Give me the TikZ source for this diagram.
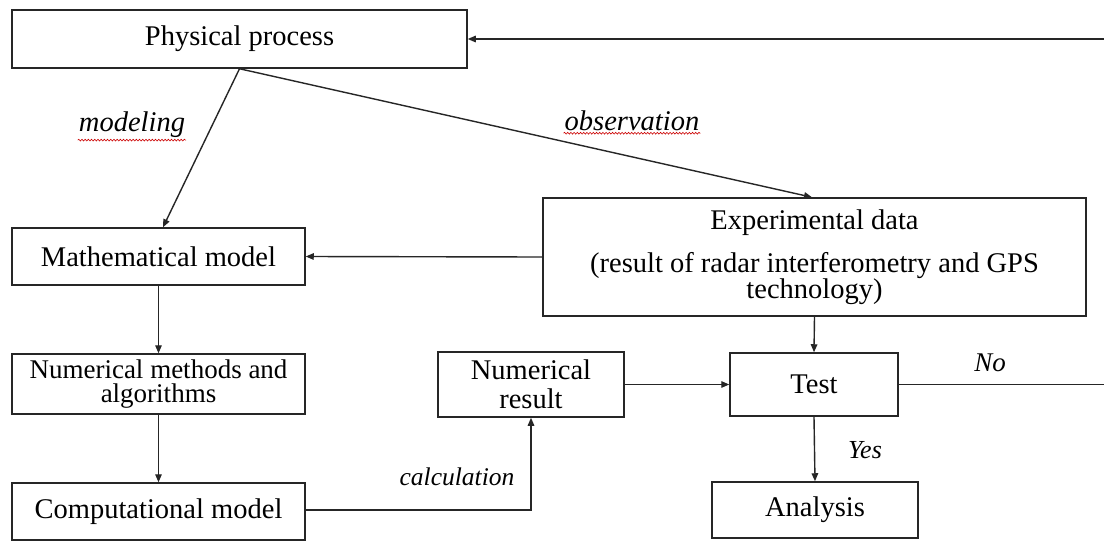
\documentclass[tikz,border=0pt]{standalone}
\usepackage{fontspec}
\setmainfont{Liberation Serif}
\usetikzlibrary{arrows.meta,decorations.pathmorphing}
\begin{document}
\begin{tikzpicture}[x=1pt,y=-1pt,
  box/.style={draw=black!85, line width=1.5pt, inner sep=0pt, align=center,
    font=\fontsize{28.5}{25}\selectfont},
  arr/.style={line width=1.4pt, draw=black!85, -{Triangle[length=8pt,width=6.5pt]}},
  ln/.style={line width=1.4pt, draw=black!85},
  lab/.style={inner sep=1pt, font=\fontsize{28.5}{30}\selectfont\itshape},
  squig/.style={draw=red!80!black, line width=0.6pt, decorate,
    decoration={snake, amplitude=0.9pt, segment length=3.2pt}}]
\useasboundingbox (0,0) rectangle (1104,541);
\fill[white] (0,0) rectangle (1104,541);

% boxes
\node[box, minimum width=455pt, minimum height=58pt] (pp) at (239.5,39) {Physical process};
\node[box, minimum width=293pt, minimum height=57pt] (math) at (158.5,256.5) {Mathematical model};
\node[box, minimum width=293pt, minimum height=60pt, font=\fontsize{27}{24.5}\selectfont] (nm) at (158.5,384) {Numerical methods and\\algorithms};
\node[box, minimum width=293pt, minimum height=57pt] (comp) at (158.5,511.5) {Computational model};
\node[box, minimum width=543pt, minimum height=118pt] (exp) at (814.5,257) {};
\node[font=\fontsize{28.5}{30}\selectfont] (expa) at (814.5,223) {Experimental data};
\node[font=\fontsize{28.5}{28}\selectfont, align=center] (expb) at (814.5,279) {(result of radar interferometry and GPS\\[-2pt]technology)};
\node[box, minimum width=186pt, minimum height=65pt, font=\fontsize{28.5}{29}\selectfont] (nr) at (531,384.5) {Numerical\\result};
\node[box, minimum width=168pt, minimum height=63pt] (test) at (814,384.5) {Test};
\node[box, minimum width=206pt, minimum height=56pt] (ana) at (815,510) {Analysis};

% free ends at the right edge and bend point
\coordinate (r1) at (1104,39);
\coordinate (r2) at (1104,384.5);
\coordinate (cstart) at ([yshift=1.5pt]comp.east);
\coordinate (bend) at (nr.south |- cstart);

% connectors
\draw[arr] (r1) -- (pp.east);
\draw[arr] (pp.south) -- ([xshift=4.5pt]math.north);
\draw[arr] (pp.south) -- ([xshift=-2.5pt]exp.north);
\draw[arr] (exp.west) -- (math.east);
\draw[arr] (math.south) -- (nm.north);
\draw[arr] (nm.south) -- (comp.north);
\draw[arr] (cstart) -- (bend) -- (nr.south);
\draw[arr] (nr.east) -- (test.west);
\draw[arr] (exp.south) -- (test.north);
\draw[arr] (test.south) -- (ana.north);
\draw[ln] (test.east) -- (r2);

% labels
\node[lab] (lmod) at (132,125) {modeling};
\node[lab] (lobs) at (632,121) {observation};
\node[lab, font=\fontsize{25.5}{27}\selectfont\itshape] (lcal) at (457,477) {calculation};
\node[lab, font=\fontsize{27}{28}\selectfont\itshape] (lno) at (990,363) {No};
\node[lab, font=\fontsize{26}{27}\selectfont\itshape] (lyes) at (865,450) {Yes};

\draw[squig] ([yshift=-1pt]lmod.south west) -- ([yshift=-1pt]lmod.south east);
\draw[squig] ([yshift=-1pt]lobs.south west) -- ([yshift=-1pt]lobs.south east);
\end{tikzpicture}
\end{document}
